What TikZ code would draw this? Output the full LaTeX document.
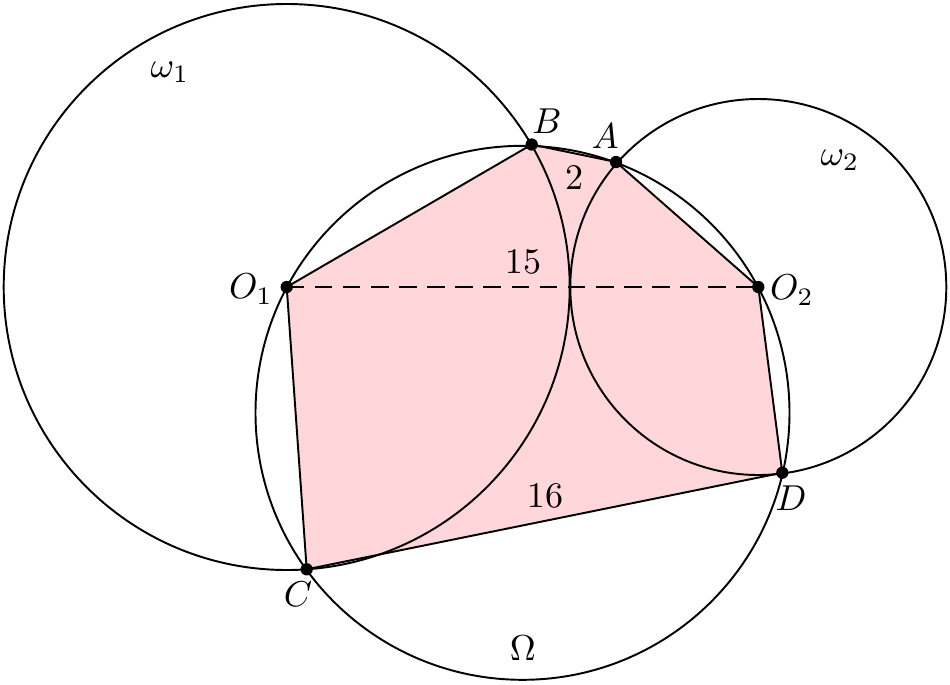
\documentclass[tikz,border=0pt]{standalone}
\usetikzlibrary{calc}
\definecolor{regfill}{RGB}{255,214,217}
\newcommand{\lb}[1]{\scalebox{2.05}{$#1$}}
\begin{document}
\begin{tikzpicture}[x=0.02cm,y=-0.02cm,
  line width=1.1pt,
  pt/.style={circle,fill=black,inner sep=0pt,minimum size=7pt},
  lbl/.style={inner sep=0pt}]
\useasboundingbox (0,0) rectangle (950,684);
\coordinate (O1) at (286.7,287);
\coordinate (O2) at (758.3,287);
\coordinate (B) at (531.7,144.5);
\coordinate (A) at (616,162);
\coordinate (C) at (306.7,569.3);
\coordinate (D) at (782.3,472.7);
\coordinate (Oc) at (522.5,412.8);
% region
\fill[regfill] (O1) -- (B) -- (A) -- (O2) -- (D) -- (C) -- cycle;
% circles
\draw (O1) circle[radius=283];
\draw (O2) circle[radius=188];
\draw (Oc) circle[radius=267];
% polygon
\draw (O1) -- (B) -- (A) -- (O2) -- (D) -- (C) -- cycle;
\draw[dashed,dash pattern=on 10pt off 6pt] (O1) -- (O2);
% points
\foreach \p in {O1,O2,A,B,C,D} \node[pt] at (\p) {};
% labels
\node[lbl] (l1) at (170,72) {\lb{\omega_1}};
\node[lbl] (l2) at (840,160) {\lb{\omega_2}};
\node[lbl] (lB) at (547,121) {\lb{B}};
\node[lbl] (lA) at (605,136) {\lb{A}};
\node[lbl] (lAB) at (574,178) {\lb{2}};
\node[lbl] (lO1) at (251,289) {\lb{O_1}};
\node[lbl] (lO2) at (792,290) {\lb{O_2}};
\node[lbl] (lC) at (298,594) {\lb{C}};
\node[lbl] (lD) at (791,498) {\lb{D}};
\node[lbl] (lOm) at (523,648) {\lb{\Omega}};
\node[lbl] (l15) at (523,262) {\lb{15}};
\node[lbl] (l16) at (545,496) {\lb{16}};
\end{tikzpicture}
\end{document}
